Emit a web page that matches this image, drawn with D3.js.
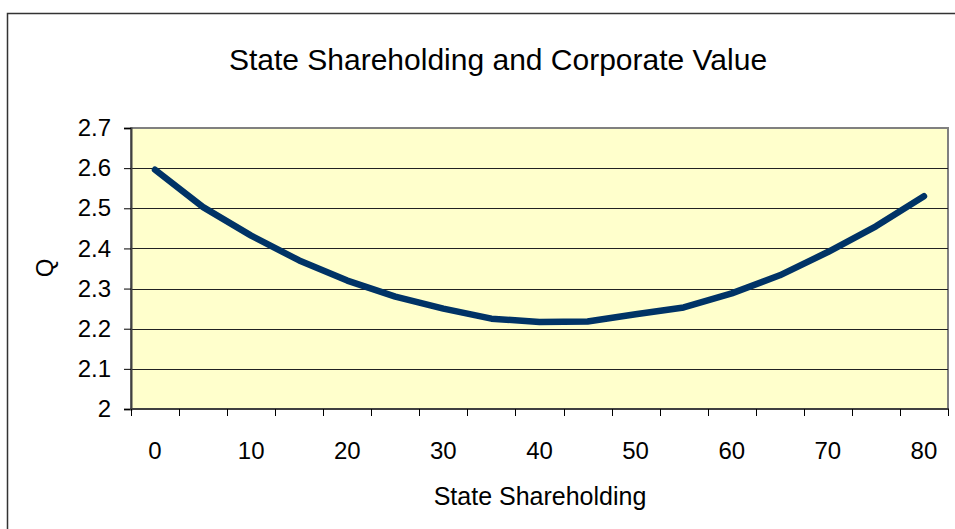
<!DOCTYPE html>
<html>
<head>
<meta charset="utf-8">
<script src="https://cdn.jsdelivr.net/npm/d3@7"></script>
<style>
  body { margin: 0; background: #fff; }
  text { font-family: "Liberation Sans", Arial, sans-serif; fill: #000; }
</style>
</head>
<body>
<div id="graph"></div>
<script>
var width = 955;
var height = 529;

// state shareholding categories (percent)
var shares = [0, 5, 10, 15, 20, 25, 30, 35, 40, 45, 50, 55, 60, 65, 70, 75, 80];
// Q values
var qValues = [2.596, 2.503, 2.432, 2.370, 2.320, 2.280, 2.250, 2.225, 2.217,
  2.218, 2.236, 2.253, 2.288, 2.333, 2.391, 2.455, 2.530];
var yTicks = [2, 2.1, 2.2, 2.3, 2.4, 2.5, 2.6, 2.7];
var xLabels = [0, 10, 20, 30, 40, 50, 60, 70, 80];

var plot = {left: 131, top: 128, right: 948, bottom: 409};

var svg = d3.select("#graph").append("svg")
  .attr("width", width)
  .attr("height", height);

// outer chart border
svg.append("rect")
  .attr("x", 7.5).attr("y", 13.5)
  .attr("width", width + 10).attr("height", height + 10)
  .attr("fill", "#fff")
  .attr("stroke", "#333")
  .attr("stroke-width", 1.5);

var x = d3.scaleBand()
  .domain(shares)
  .range([plot.left, plot.right]);
var y = d3.scaleLinear()
  .domain([2, 2.7])
  .range([plot.bottom, plot.top]);

// plot area background
svg.append("rect")
  .attr("x", plot.left).attr("y", plot.top)
  .attr("width", plot.right - plot.left)
  .attr("height", plot.bottom - plot.top)
  .attr("fill", "#ffffcc")
  .attr("stroke", "#808080")
  .attr("stroke-width", 2);

// gridlines
svg.append("g")
  .selectAll("line")
  .data(yTicks.slice(1, -1))
  .enter().append("line")
  .attr("x1", plot.left).attr("x2", plot.right)
  .attr("y1", function(d) { return Math.round(y(d)) + 0.5; })
  .attr("y2", function(d) { return Math.round(y(d)) + 0.5; })
  .attr("stroke", "#222")
  .attr("stroke-width", 1);

// y axis
var yAxis = svg.append("g")
  .attr("transform", "translate(" + plot.left + ",0)")
  .call(d3.axisLeft(y).tickValues(yTicks).tickSize(7).tickPadding(13)
    .tickFormat(function(d) { return d3.format("")(d); }));
yAxis.select(".domain").attr("stroke", "#404040").attr("stroke-width", 2);
yAxis.selectAll(".tick line").attr("stroke", "#000");
yAxis.selectAll(".tick text")
  .attr("font-size", 24)
  .attr("font-family", "Liberation Sans, Arial, sans-serif")
  .attr("fill", "#000");

// x axis: ticks at category boundaries, labels every 10
var boundaries = shares.map(function(d) { return x(d); }).concat([x.range()[1]]);
var xg = svg.append("g");
xg.append("line")
  .attr("x1", plot.left - 1).attr("x2", plot.right + 1)
  .attr("y1", plot.bottom).attr("y2", plot.bottom)
  .attr("stroke", "#404040")
  .attr("stroke-width", 2);
xg.selectAll("line.tick")
  .data(boundaries)
  .enter().append("line")
  .attr("class", "tick")
  .attr("x1", function(d) { return Math.round(d) + 0.5; })
  .attr("x2", function(d) { return Math.round(d) + 0.5; })
  .attr("y1", plot.bottom)
  .attr("y2", plot.bottom + 7)
  .attr("stroke", "#000");
xg.selectAll("text")
  .data(xLabels)
  .enter().append("text")
  .attr("x", function(d) { return x(d) + x.bandwidth() / 2; })
  .attr("y", 459)
  .attr("text-anchor", "middle")
  .attr("font-size", 24)
  .text(function(d) { return d; });

// the line
var line = d3.line()
  .x(function(d, i) { return x(shares[i]) + x.bandwidth() / 2; })
  .y(function(d) { return y(d); });
svg.append("path")
  .datum(qValues)
  .attr("d", line)
  .attr("fill", "none")
  .attr("stroke", "#003366")
  .attr("stroke-width", 6.5)
  .attr("stroke-linecap", "round")
  .attr("stroke-linejoin", "round");

// titles
svg.append("text")
  .attr("x", 498).attr("y", 70)
  .attr("text-anchor", "middle")
  .attr("font-size", 30)
  .text("State Shareholding and Corporate Value");
svg.append("text")
  .attr("x", 540).attr("y", 505)
  .attr("text-anchor", "middle")
  .attr("font-size", 25)
  .text("State Shareholding");
svg.append("text")
  .attr("transform", "translate(53,268) rotate(-90)")
  .attr("text-anchor", "middle")
  .attr("font-size", 24)
  .text("Q");
</script>
</body>
</html>
